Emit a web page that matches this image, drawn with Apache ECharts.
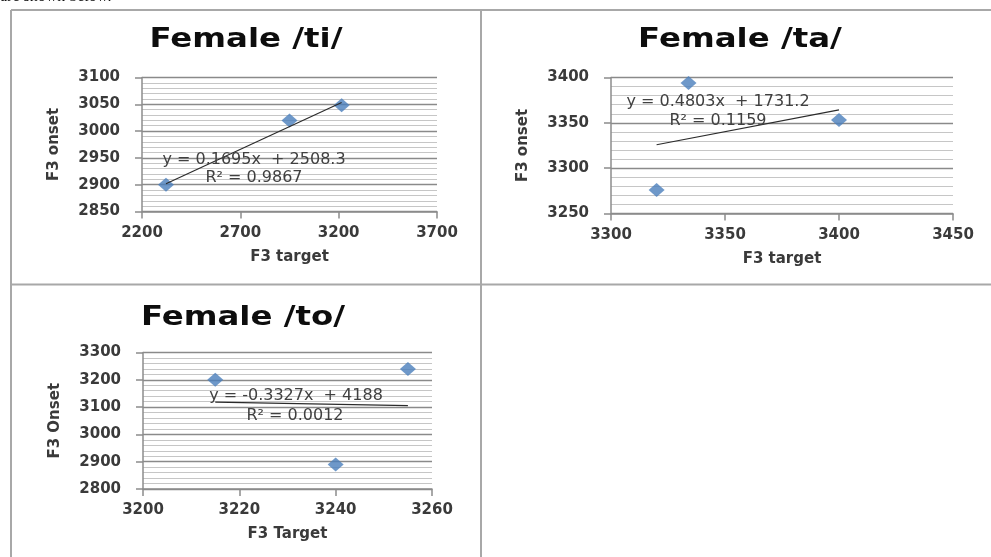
<!DOCTYPE html>
<html>
<head>
<meta charset="utf-8">
<script src="https://cdn.jsdelivr.net/npm/echarts@6/dist/echarts.min.js"></script>
<style>
  html, body { margin: 0; padding: 0; background: #fff; }
  #chart { width: 991px; height: 557px; }
</style>
</head>
<body>
<div id="chart"></div>
<script>
// Female /ti/
var tiTarget = [2322, 2950, 3215];
var tiOnset = [2900, 3020, 3048];
var tiFit = { slope: 0.1695, intercept: 2508.3, r2: '0.9867' };

// Female /ta/
var taTarget = [3320, 3334, 3400];
var taOnset = [3276, 3394, 3353];
var taFit = { slope: 0.4803, intercept: 1731.2, r2: '0.1159' };

// Female /to/
var toTarget = [3215, 3240, 3255];
var toOnset = [3200, 2890, 3240];
var toFit = { slope: -0.3327, intercept: 4188, r2: '0.0012' };

// Axis ranges and tick steps
var tiX = { min: 2200, max: 3700, step: 500 }, tiY = { min: 2850, max: 3100, step: 50 };
var taX = { min: 3300, max: 3450, step: 50 },  taY = { min: 3250, max: 3400, step: 50 };
var toX = { min: 3200, max: 3260, step: 20 },  toY = { min: 2800, max: 3300, step: 100 };

var LABEL_FONT = 'DejaVu Sans';
var INK = '#3a3a3a';
var AXIS_GREY = '#8c8c8c';

function pairs(xs, ys) { return xs.map(function (x, i) { return [x, ys[i]]; }); }

// Trendline from the stated equation, across the range of the data
function fitLine(xs, fit) {
  var lo = Math.min.apply(null, xs), hi = Math.max.apply(null, xs);
  return [[lo, fit.slope * lo + fit.intercept], [hi, fit.slope * hi + fit.intercept]];
}

function eqText(fit) {
  var s = fit.slope < 0 ? '-' + Math.abs(fit.slope) : String(fit.slope);
  return 'y = ' + s + 'x  + ' + fit.intercept;
}

function plain(v) { return String(v); }

function xAxisOf(r, idx, name) {
  return {
    type: 'value', gridIndex: idx, min: r.min, max: r.max, interval: r.step,
    name: name, nameLocation: 'middle', nameGap: 38,
    nameTextStyle: { fontFamily: LABEL_FONT, fontWeight: 'bold', fontSize: 15, color: INK },
    axisLine: { show: true, onZero: false, lineStyle: { color: AXIS_GREY, width: 1.5 } },
    axisTick: { show: true, inside: false, length: 7, lineStyle: { color: AXIS_GREY, width: 1.5 } },
    axisLabel: { margin: 14, fontFamily: LABEL_FONT, fontWeight: 'bold', fontSize: 15, color: INK, formatter: plain },
    splitLine: { show: false }
  };
}

function yAxisOf(r, idx, name) {
  return {
    type: 'value', gridIndex: idx, min: r.min, max: r.max, interval: r.step,
    name: name, nameLocation: 'middle', nameGap: 80,
    nameTextStyle: { fontFamily: LABEL_FONT, fontWeight: 'bold', fontSize: 15, color: INK },
    axisLine: { show: true, onZero: false, lineStyle: { color: AXIS_GREY, width: 1.5 } },
    axisTick: { show: true, inside: false, length: 7, lineStyle: { color: AXIS_GREY, width: 1.5 } },
    axisLabel: { margin: 22, fontFamily: LABEL_FONT, fontWeight: 'bold', fontSize: 15, color: INK, formatter: plain },
    splitLine: { show: true, lineStyle: { color: '#8a8a8a', width: 1.3 } },
    minorTick: { show: false, splitNumber: 5 },
    minorSplitLine: { show: true, lineStyle: { color: '#c6c6c6', width: 1 } }
  };
}

function scatterOf(idx, xs, ys) {
  return {
    type: 'scatter', xAxisIndex: idx, yAxisIndex: idx,
    symbol: 'diamond', symbolSize: [16, 14],
    itemStyle: { color: '#4a7ebb' },
    data: pairs(xs, ys), z: 3
  };
}

function trendOf(idx, xs, fit) {
  return {
    type: 'line', xAxisIndex: idx, yAxisIndex: idx,
    symbol: 'none', silent: true,
    lineStyle: { color: '#2b2b2b', width: 1.2 },
    data: fitLine(xs, fit), z: 4
  };
}

function text(x, y, str, style, scaleX) {
  return {
    type: 'text', x: x, y: y, scaleX: scaleX || 1, silent: true, z: 10,
    style: Object.assign({
      text: str, align: 'center', verticalAlign: 'middle',
      fill: '#404040', font: '15px "DejaVu Sans"'
    }, style || {})
  };
}

function rule(x1, y1, x2, y2) {
  return {
    type: 'line', silent: true,
    shape: { x1: x1, y1: y1, x2: x2, y2: y2 },
    style: { stroke: '#a8a8a8', lineWidth: 2 }
  };
}

var TITLE_FONT = 'bold 27px "DejaVu Sans"';
var EQ_FONT = '16px "DejaVu Sans"';
var TITLE_STRETCH = 1.2;

var chart = echarts.init(document.getElementById('chart'), null, { renderer: 'canvas' });
chart.setOption({
  backgroundColor: '#ffffff',
  animation: false,
  grid: [
    { left: 142, top: 77.5, width: 295, height: 134 },
    { left: 611, top: 77.5, width: 342, height: 136 },
    { left: 143, top: 352.5, width: 289, height: 136.5 }
  ],
  xAxis: [
    xAxisOf(tiX, 0, 'F3 target'),
    xAxisOf(taX, 1, 'F3 target'),
    xAxisOf(toX, 2, 'F3 Target')
  ],
  yAxis: [
    yAxisOf(tiY, 0, 'F3 onset'),
    yAxisOf(taY, 1, 'F3 onset'),
    yAxisOf(toY, 2, 'F3 Onset')
  ],
  series: [
    scatterOf(0, tiTarget, tiOnset), trendOf(0, tiTarget, tiFit),
    scatterOf(1, taTarget, taOnset), trendOf(1, taTarget, taFit),
    scatterOf(2, toTarget, toOnset), trendOf(2, toTarget, toFit)
  ],
  graphic: [
    // sentence above the figure, cut by the top edge
    text(0, 5, 'are shown below.', { align: 'left', verticalAlign: 'bottom', fill: '#111', font: '16px "Liberation Serif"' }),
    // panel frames
    rule(11, 10, 991, 10),
    rule(11, 284.5, 991, 284.5),
    rule(11, 10, 11, 557),
    rule(481, 10, 481, 557),
    // titles
    text(246, 40, 'Female /ti/', { font: TITLE_FONT, fill: '#0d0d0d' }, TITLE_STRETCH),
    text(740, 40, 'Female /ta/', { font: TITLE_FONT, fill: '#0d0d0d' }, TITLE_STRETCH),
    text(243, 318, 'Female /to/', { font: TITLE_FONT, fill: '#0d0d0d' }, TITLE_STRETCH),
    // trendline equations
    text(254, 160, eqText(tiFit), { font: EQ_FONT }),
    text(254, 178, 'R\u00b2 = ' + tiFit.r2, { font: EQ_FONT }),
    text(718, 102, eqText(taFit), { font: EQ_FONT }),
    text(718, 121, 'R\u00b2 = ' + taFit.r2, { font: EQ_FONT }),
    text(296, 396, eqText(toFit), { font: EQ_FONT }),
    text(295, 416, 'R\u00b2 = ' + toFit.r2, { font: EQ_FONT })
  ]
});
</script>
</body>
</html>
